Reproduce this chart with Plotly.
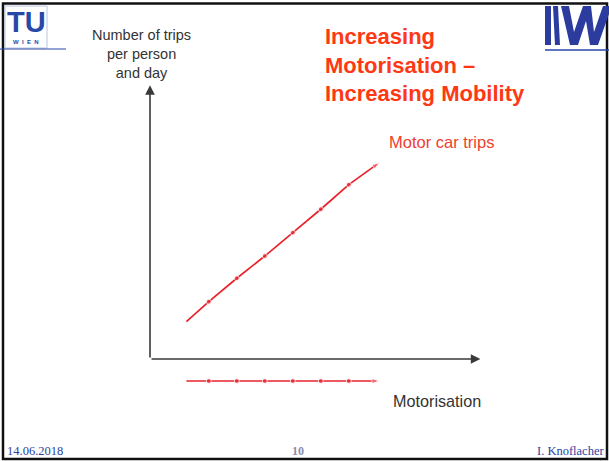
import plotly.graph_objects as go

# ---- data ----
motorisation = [1.3, 2.1, 3.1, 4.1, 5.1, 6.1, 7.1, 8.2]
car_trips = [1.6, 2.45, 3.45, 4.4, 5.4, 6.4, 7.45, 8.4]
motorisation_level = [-0.94, -0.94, -0.94, -0.94, -0.94, -0.94, -0.94, -0.94]
x_axis_end = 11.8
y_axis_end = 11.7

W, H = 609, 461
XPX, YPX = 28.0, 23.4  # pixels per data unit
X0, Y0 = 150, 359      # origin in pixels

def px(x):
    return x / W

def py(y):
    return 1 - y / H

RED = "#E8212B"
symbols = ["circle"] + ["circle"] * 6 + ["arrow"]
sizes = [0] + [5] * 6 + [8]

fig = go.Figure()
for ys, nm in [(car_trips, "Motor car trips"), (motorisation_level, "Motorisation")]:
    fig.add_trace(go.Scatter(
        x=motorisation, y=ys, mode="lines+markers", name=nm,
        line=dict(color=RED, width=1.7),
        marker=dict(symbol=symbols, size=sizes, color=RED, angleref="previous"),
        hoverinfo="skip", showlegend=False))

annotations = []
# axis arrows
annotations.append(dict(x=x_axis_end, y=0, ax=0, ay=0, axref="x", ayref="y", xref="x", yref="y",
                        text="", showarrow=True, arrowhead=2, arrowsize=1.2, arrowwidth=1.6,
                        arrowcolor="#3a3a3a"))
annotations.append(dict(x=0, y=y_axis_end, ax=0, ay=0, axref="x", ayref="y", xref="x", yref="y",
                        text="", showarrow=True, arrowhead=2, arrowsize=1.2, arrowwidth=1.6,
                        arrowcolor="#3a3a3a"))

def txt(x, y, s, size, color, xanchor="left", family="Liberation Sans", bold=False, yanchor="middle", align="left"):
    annotations.append(dict(x=px(x), y=py(y), xref="paper", yref="paper", text=("<b>%s</b>" % s) if bold else s,
                            showarrow=False, xanchor=xanchor, yanchor=yanchor, align=align,
                            font=dict(family=family, size=size, color=color)))

txt(323, 65, "Increasing<br>Motorisation –<br>Increasing Mobility", 22, "#FF3814", bold=True)
txt(141, 54, "Number of trips<br>per person<br>and day", 14.5, "#333333", xanchor="center", align="center")
txt(387, 142, "Motor car trips", 16.5, "#F0402E")
txt(391, 401, "Motorisation", 16.2, "#333333")
txt(5, 451, "14.06.2018", 12.5, "#2B3F9F", family="Liberation Serif")
txt(298, 451, "<b>10</b>", 12, "#8A8AA8", xanchor="center", family="Liberation Serif")
txt(606, 451, "I. Knoflacher", 12.5, "#2B3F9F", xanchor="right", family="Liberation Serif")
# TU logo text
txt(26, 22, "TU", 29, "#2848A8", xanchor="center", bold=True)
txt(26, 42, "W  I  E  N", 6, "#2848A8", xanchor="center", bold=True)

shapes = []
def rect(x0, y0, x1, y1, line=None, fill=None, lw=1):
    shapes.append(dict(type="rect", xref="paper", yref="paper", x0=px(x0), y0=py(y0), x1=px(x1), y1=py(y1),
                       line=dict(color=line or "rgba(0,0,0,0)", width=lw if line else 0),
                       fillcolor=fill or "rgba(0,0,0,0)", layer="below"))

def line(x0, y0, x1, y1, color, lw):
    shapes.append(dict(type="line", xref="paper", yref="paper", x0=px(x0), y0=py(y0), x1=px(x1), y1=py(y1),
                       line=dict(color=color, width=lw)))

def poly(pts, fill):
    d = "M " + " L ".join("%f,%f" % (px(a), py(b)) for a, b in pts) + " Z"
    shapes.append(dict(type="path", xref="paper", yref="paper", path=d, fillcolor=fill,
                       line=dict(width=0)))

# slide border
rect(3, 3.5, 607, 459, line="#111111", lw=2.5)
# TU logo box
rect(5, 6, 47, 48, line="#B8C4E0", lw=1)
line(0, 49, 66, 49, "#2848A8", 1.2)
# IW logo
BLUE = "#2B3C9E"
poly([(545, 6), (551, 6), (551, 45), (545, 45)], BLUE)
poly([(553, 6), (558, 6), (560, 45), (555, 45)], BLUE)
poly([(561, 6), (569, 6), (574, 32), (583, 6), (591, 6), (594, 32), (603, 6), (609, 6),
      (609, 14), (598, 45), (590, 45), (586, 21), (578, 45), (570, 45)], BLUE)
line(545, 50, 609, 50, "#2848A8", 1.5)

fig.update_layout(
    width=W, height=H, autosize=False,
    margin=dict(l=0, r=0, t=0, b=0),
    paper_bgcolor="white", plot_bgcolor="white",
    xaxis=dict(range=[-X0 / XPX, (W - X0) / XPX], visible=False, fixedrange=True),
    yaxis=dict(range=[-(H - Y0) / YPX, Y0 / YPX], visible=False, fixedrange=True),
    annotations=annotations, shapes=shapes,
)
fig.write_html("out.html")
